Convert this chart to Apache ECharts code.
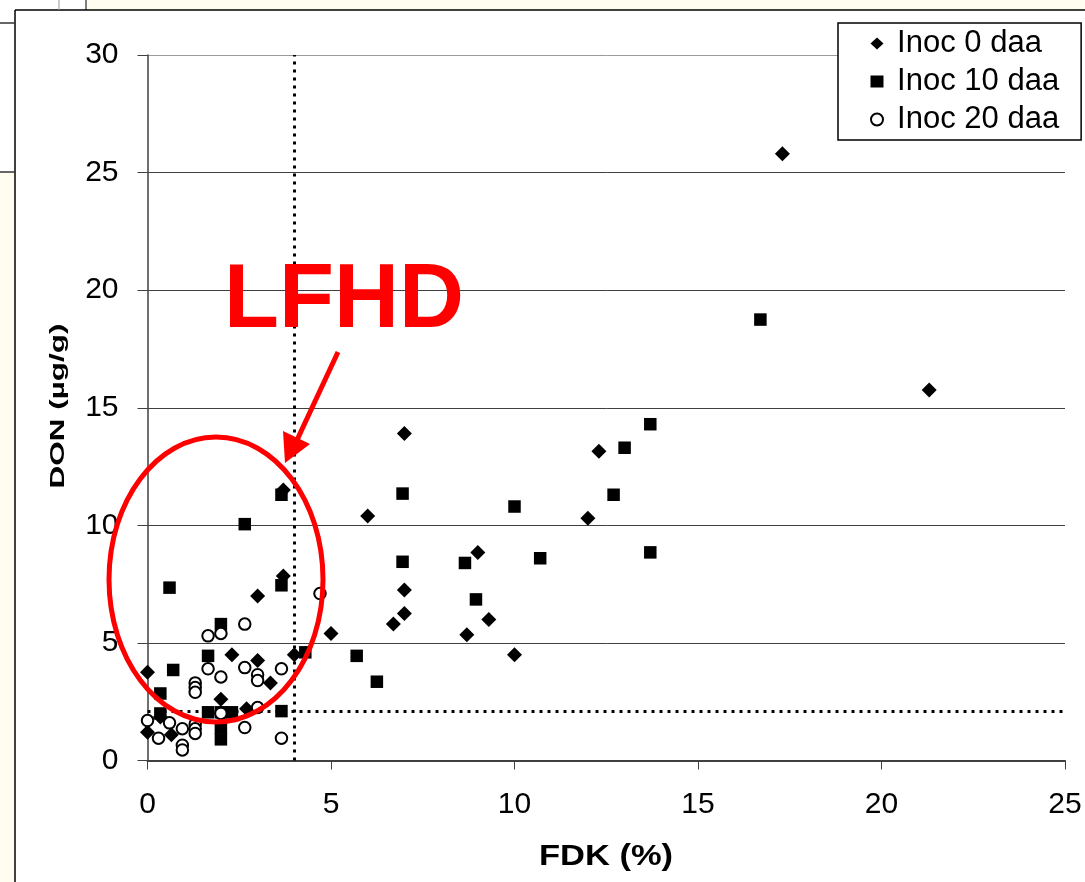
<!DOCTYPE html>
<html><head><meta charset="utf-8">
<script src="https://cdn.jsdelivr.net/npm/echarts@6/dist/echarts.min.js"></script>
<style>html,body{margin:0;padding:0;background:#fff}#c{width:1085px;height:882px}</style>
</head><body><div id="c"></div>
<script>
// ---- data ----
const seriesNames = ['Inoc 0 daa', 'Inoc 10 daa', 'Inoc 20 daa'];
const inoc0 = [
  [0, 3.75], [0, 1.2], [0.35, 1.85], [0.65, 1.1], [2.0, 2.6], [2.3, 4.5], [2.7, 2.2],
  [3.0, 7.0], [3.0, 4.25], [3.35, 3.3], [3.7, 11.5], [3.7, 7.85], [4.0, 4.5], [5.0, 5.4],
  [6.0, 10.4], [6.7, 5.8], [7.0, 13.9], [7.0, 7.25], [7.0, 6.25], [8.7, 5.35], [9.0, 8.85],
  [9.3, 6.0], [10.0, 4.5], [12.0, 10.3], [12.3, 13.15], [17.3, 25.8], [21.3, 15.75]
];
const inoc10 = [
  [0.35, 2.85], [0.35, 2.0], [0.6, 7.35], [0.7, 3.85], [1.65, 4.45], [1.65, 2.05], [2.0, 5.8],
  [2.0, 2.05], [2.0, 1.4], [2.0, 0.9], [2.3, 2.05], [2.65, 10.05], [3.65, 11.3], [3.65, 7.45],
  [3.65, 2.1], [4.3, 4.6], [5.7, 4.45], [6.25, 3.35], [6.95, 11.35], [6.95, 8.45], [8.65, 8.4],
  [8.95, 6.85], [10.0, 10.8], [10.7, 8.6], [12.7, 11.3], [13.0, 13.3], [13.7, 14.3], [13.7, 8.85],
  [16.7, 18.75]
];
const inoc20 = [
  [0, 1.7], [0.3, 0.95], [0.6, 1.6], [0.95, 1.35], [0.95, 0.65], [0.95, 0.45], [1.3, 3.3],
  [1.3, 3.1], [1.3, 2.9], [1.3, 1.55], [1.3, 1.35], [1.3, 1.15], [1.65, 5.3], [1.65, 3.9],
  [2.0, 5.4], [2.0, 3.55], [2.0, 2.0], [2.65, 5.8], [2.65, 3.95], [2.65, 1.4], [3.0, 3.65],
  [3.0, 3.4], [3.0, 2.25], [3.65, 3.9], [3.65, 0.95], [4.7, 7.1]
];
const fdkThreshold = 4;
const donThreshold = 2.1;
const xAxisTitle = 'FDK (%)';
const yAxisTitle = 'DON (µg/g)';
const annotationText = 'LFHD';

// ---- chart ----
const chart = echarts.init(document.getElementById('c'), null, {renderer: 'canvas'});
const FONT = '"Liberation Sans", Arial, sans-serif';
const cream = '#fffdf0';

chart.setOption({
  animation: false,
  backgroundColor: '#fff',
  grid: {left: 147.5, right: 20, top: 55, bottom: 121.5, containLabel: false},
  xAxis: {
    type: 'value', min: 0, max: 25, interval: 5,
    axisLine: {show: true, onZero: false, lineStyle: {color: '#404040', width: 2}},
    axisTick: {show: true, length: 9, lineStyle: {color: '#404040', width: 1}},
    axisLabel: {margin: 29, fontSize: 30, fontFamily: FONT, color: '#000'},
    splitLine: {show: false}
  },
  yAxis: {
    type: 'value', min: 0, max: 30, interval: 5,
    axisLine: {show: true, onZero: false, lineStyle: {color: '#404040', width: 1.5}},
    axisTick: {show: true, length: 10, lineStyle: {color: '#404040', width: 1}},
    axisLabel: {margin: 29, fontSize: 30, fontFamily: FONT, color: '#000'},
    splitLine: {show: true, lineStyle: {color: ['#404040', '#404040', '#404040', '#404040', '#404040', '#404040', '#9a9a9a'], width: 1}}
  },
  legend: {
    orient: 'vertical', left: 838, top: 23,
    backgroundColor: '#fff', borderColor: '#000', borderWidth: 1.5, borderRadius: 0,
    padding: [5, 22, 5, 32], itemGap: 7, itemWidth: 13, itemHeight: 12,
    formatter: n => ' ' + n,
    textStyle: {fontSize: 31, fontFamily: FONT, color: '#000', lineHeight: 29},
    data: seriesNames
  },
  series: [
    {
      name: seriesNames[0], type: 'scatter', data: inoc0,
      symbol: 'diamond', symbolSize: 15,
      itemStyle: {color: '#000', opacity: 1}, emphasis: {disabled: true}, z: 3,
      markLine: {
        silent: true, symbol: 'none', animation: false, label: {show: false},
        lineStyle: {color: '#000', type: [3, 5], width: 3, opacity: 1},
        emphasis: {disabled: true},
        data: [{xAxis: fdkThreshold}, {yAxis: donThreshold}]
      }
    },
    {
      name: seriesNames[1], type: 'scatter', data: inoc10,
      symbol: 'rect', symbolSize: 12.5,
      itemStyle: {color: '#000', opacity: 1}, emphasis: {disabled: true}, z: 4
    },
    {
      name: seriesNames[2], type: 'scatter', data: inoc20,
      symbol: 'circle', symbolSize: 11.5,
      itemStyle: {color: '#fff', borderColor: '#000', borderWidth: 2, opacity: 1}, emphasis: {disabled: true}, z: 5
    }
  ],
  graphic: [
    // slide frame decoration
    {type: 'rect', z: -10, silent: true, shape: {x: 86, y: 0, width: 1000, height: 10}, style: {fill: cream}},
    {type: 'rect', z: -10, silent: true, shape: {x: 0, y: 172, width: 15, height: 710}, style: {fill: cream}},
    {type: 'line', z: -9, silent: true, shape: {x1: 15, y1: 10, x2: 15, y2: 882}, style: {stroke: '#000', lineWidth: 1.5}},
    {type: 'line', z: -9, silent: true, shape: {x1: 15, y1: 10, x2: 1085, y2: 10}, style: {stroke: '#000', lineWidth: 1.5}},
    {type: 'line', z: -9, silent: true, shape: {x1: 0, y1: 23, x2: 15, y2: 23}, style: {stroke: '#333', lineWidth: 1.5}},
    {type: 'line', z: -9, silent: true, shape: {x1: 0, y1: 172, x2: 15, y2: 172}, style: {stroke: '#333', lineWidth: 1.5}},
    {type: 'line', z: -9, silent: true, shape: {x1: 59, y1: 0, x2: 59, y2: 10}, style: {stroke: '#999', lineWidth: 1}},
    {type: 'line', z: -9, silent: true, shape: {x1: 86, y1: 0, x2: 86, y2: 10}, style: {stroke: '#000', lineWidth: 1}},
    // axis titles
    {type: 'text', z: 10, silent: true, x: 606, y: 857, scaleX: 1.15,
      style: {text: xAxisTitle, font: 'bold 30px ' + FONT, fill: '#000', align: 'center', verticalAlign: 'middle'}},
    {type: 'text', z: 10, silent: true, x: 58, y: 406, rotation: Math.PI / 2, scaleX: 1.5,
      style: {text: yAxisTitle, font: 'bold 21px ' + FONT, fill: '#000', align: 'center', verticalAlign: 'middle'}},
    // red annotation
    {type: 'ellipse', z: 100, silent: true, shape: {cx: 216, cy: 579.5, rx: 107, ry: 142.5},
      style: {fill: 'none', stroke: '#ff0000', lineWidth: 5}},
    {type: 'line', z: 100, silent: true, shape: {x1: 338, y1: 352, x2: 297, y2: 440},
      style: {stroke: '#ff0000', lineWidth: 5}},
    {type: 'polygon', z: 100, silent: true, shape: {points: [[285, 463], [283, 431], [310, 444]]},
      style: {fill: '#ff0000'}},
    {type: 'text', z: 100, silent: true, x: 344, y: 302,
      style: {text: annotationText, font: 'bold 90px ' + FONT, fill: '#ff0000', align: 'center', verticalAlign: 'middle'}}
  ]
});
</script></body></html>
